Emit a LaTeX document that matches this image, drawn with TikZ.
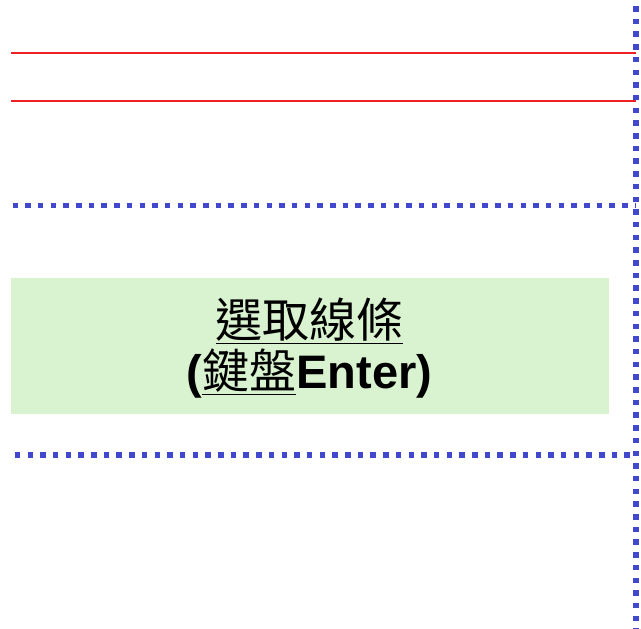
\documentclass[tikz,border=0pt]{standalone}
\usepackage{fontspec}
\setmainfont{Liberation Sans}
\newfontfamily\cjk{Noto Sans CJK TC}
\definecolor{dotblue}{RGB}{66,72,206}
\definecolor{boxgreen}{RGB}{217,242,208}
\definecolor{linered}{RGB}{238,34,34}
\begin{document}
\begin{tikzpicture}[x=1pt,y=-1pt,
    redline/.style={linered,line width=2pt},
    bluedots/.style={dotblue,line width=5.5pt,dash pattern=on 5.5pt off 7.2pt}]
  \useasboundingbox (0,0) rectangle (641,629);
  % red lines at the top
  \coordinate (r1a) at (11,52.5);  \coordinate (r1b) at (636,52.5);
  \coordinate (r2a) at (11,101.3); \coordinate (r2b) at (636,101.3);
  \draw[redline] (r1a) -- (r1b);
  \draw[redline] (r2a) -- (r2b);
  % dotted frame
  \coordinate (top) at (636,6);     \coordinate (bot) at (636,629);
  \coordinate (h1a) at (12.5,205.3); \coordinate (h1b) at (636,205.3);
  \coordinate (h2a) at (14.8,455);   \coordinate (h2b) at (636,455);
  \draw[bluedots] (top) -- (bot);
  \draw[bluedots] (h1a) -- (h1b);
  \draw[bluedots] (h2a) -- (h2b);
  % green box
  \node[fill=boxgreen,minimum width=598pt,minimum height=136pt,inner sep=0pt,
    align=center,font=\fontsize{47}{54}\selectfont] (sel) at (309.5,345.5) {};
  \node[align=center,inner sep=0pt,font=\fontsize{47}{54}\selectfont]
    (seltext) at ([yshift=-3pt]sel.center)
    {{\cjk\underline{選取線條}}\\[-3pt]
     \bfseries({\cjk\mdseries\underline{鍵盤}}Enter)};
\end{tikzpicture}
\end{document}
